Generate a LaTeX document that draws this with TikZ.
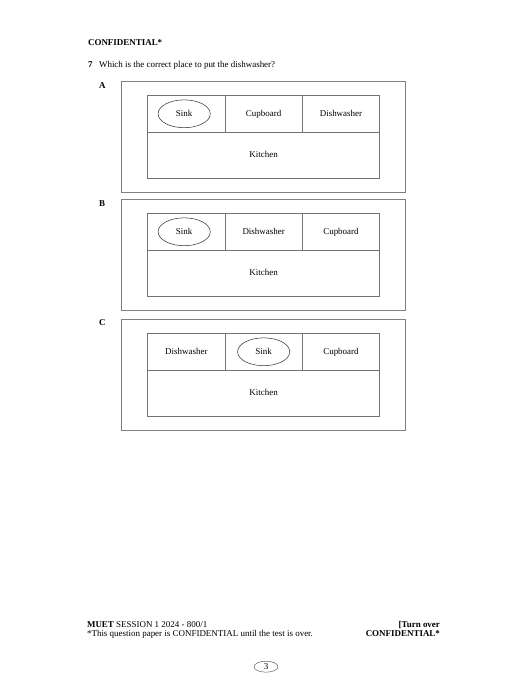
\documentclass[tikz,border=0pt]{standalone}
\usepackage{fontspec}
\setmainfont{Liberation Serif}
\usetikzlibrary{positioning, shapes.geometric}

\begin{document}
\begin{tikzpicture}[x=1.15pt, y=-1.15pt, font=\fontsize{10.3}{12}\selectfont,
  frame/.style={draw=black!50, line width=0.9pt},
  cell/.style={draw=black!55, line width=0.5pt, inner sep=0pt, outer sep=0pt,
    text height=1.6ex, text depth=0.4ex,
    minimum width=88.9pt, minimum height=42.5pt},
  kitchen/.style={cell, minimum width=266.8pt, minimum height=52.9pt},
  sink/.style={ellipse, draw=black!80, line width=0.6pt, inner sep=0pt,
    text height=1.6ex, text depth=0.4ex,
    minimum width=60pt, minimum height=32pt},
  opt/.style={anchor=west, font=\fontsize{10.3}{12}\selectfont\bfseries}]
  % page
  \useasboundingbox[fill=white] (0,0) rectangle (519,700);
  % header
  \node[opt] (conf) at (85,43) {CONFIDENTIAL*};
  \node[opt] (qnum) at (85,65) {7};
  \node[anchor=west] (quest) at (96,65) {Which is the correct place to put the dishwasher?};
  % option A
  \node[opt] (labA) at (96,86) {A};
  \draw[frame] (121.5,81.5) rectangle (405.5,192.3);
  \node[cell, anchor=north west] (a1) at (147.7,95.3) {};
  \node[cell, right=0pt of a1] (a2) {Cupboard};
  \node[cell, right=0pt of a2] (a3) {Dishwasher};
  \node[kitchen, below=0pt of a2] (a4) {Kitchen};
  \node[sink] (asink) at ([xshift=-2.5pt]a1.center) {Sink};
  % option B
  \node[opt] (labB) at (96,204) {B};
  \draw[frame] (121.5,199.7) rectangle (405.5,310.7);
  \node[cell, anchor=north west] (b1) at (147.7,213.3) {};
  \node[cell, right=0pt of b1] (b2) {Dishwasher};
  \node[cell, right=0pt of b2] (b3) {Cupboard};
  \node[kitchen, below=0pt of b2] (b4) {Kitchen};
  \node[sink] (bsink) at ([xshift=-2.5pt]b1.center) {Sink};
  % option C
  \node[opt] (labC) at (96,323) {C};
  \draw[frame] (121.5,319.3) rectangle (405.5,430.7);
  \node[cell, anchor=north west] (c1) at (147.7,333.3) {Dishwasher};
  \node[cell, right=0pt of c1] (c2) {};
  \node[cell, right=0pt of c2] (c3) {Cupboard};
  \node[kitchen, below=0pt of c2] (c4) {Kitchen};
  \node[sink] (csink) at (c2.center) {Sink};
  % footer
  \node[anchor=west] (sess) at (84,625) {\textbf{MUET} SESSION 1 2024 - 800/1};
  \node[anchor=west] (note) at (84,634) {*This question paper is CONFIDENTIAL until the test is over.};
  \node[opt, anchor=east] (turn) at (443,625) {[Turn over};
  \node[opt, anchor=east] (conf2) at (443,634) {CONFIDENTIAL*};
  \node[ellipse, draw=black!70, line width=0.5pt, inner sep=0pt,
    minimum width=27.6pt, minimum height=12.6pt] (page) at (266,666.7) {3};
\end{tikzpicture}
\end{document}
